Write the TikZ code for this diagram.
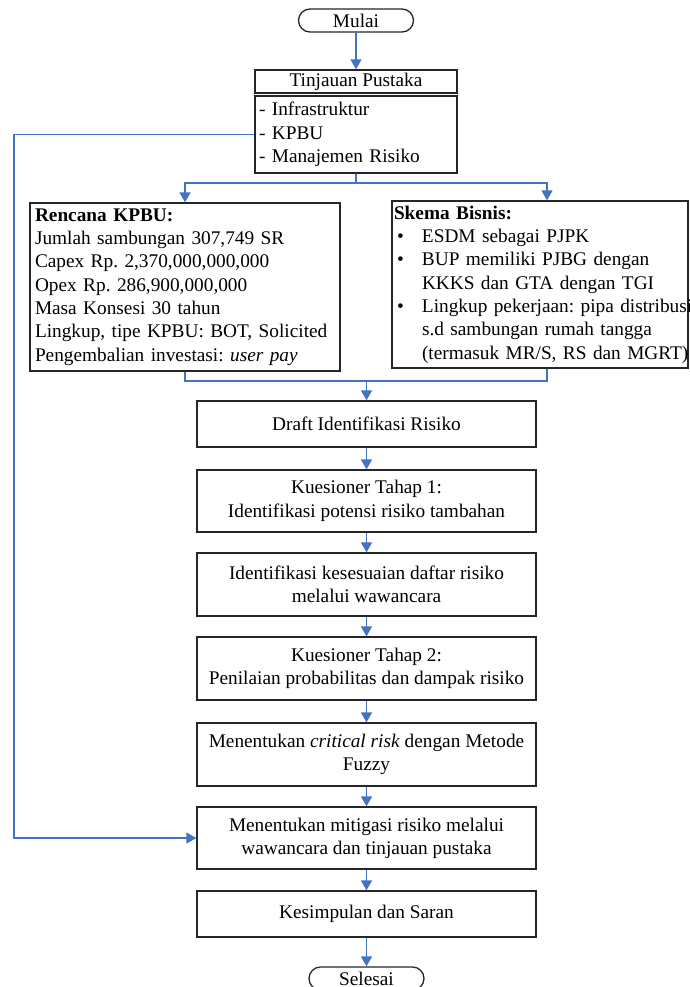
\documentclass[tikz,border=0pt]{standalone}
\usepackage{fontspec}
\setmainfont{Liberation Serif}
\usetikzlibrary{arrows.meta}
\definecolor{flowblue}{HTML}{4472C4}
\newcommand{\skbul}{\makebox[28pt][l]{\hspace*{3pt}\textbullet}}
\newcommand{\skind}{\hspace*{28pt}}
\frenchspacing
\begin{document}
\begin{tikzpicture}[x=1pt,y=-1pt,
  box/.style={draw=black!85, line width=1.3pt, inner sep=0pt,
    font=\fontsize{19.3}{23.3}\selectfont, align=center, minimum width=339pt},
  term/.style={draw=black!85, line width=1.3pt, rounded corners=11.5pt,
    minimum width=115pt, minimum height=23pt, inner sep=0pt,
    font=\fontsize{19.3}{23.3}\selectfont},
  flow/.style={draw=flowblue, line width=1.5pt},
  arr/.style={flow, -{Triangle[length=10pt,width=11pt]}},
  ]
\path[use as bounding box, clip] (0,0) rectangle (690,987);

\node[term] (mulai) at (356,20.5) {Mulai};
\node[box, minimum width=202pt, minimum height=23pt] (tp) at (356,81.5) {Tinjauan Pustaka};
\node[box, align=left, text width=194pt, inner xsep=4pt, minimum width=202pt,
  minimum height=77pt] (tplist) at (356,134.5) {- Infrastruktur\\- KPBU\\- Manajemen Risiko};

\node[box, align=left, text width=300pt, inner xsep=5pt, minimum width=310pt,
  minimum height=168pt] (rencana) at (185,287)
  {\textbf{Rencana KPBU:}\\
   Jumlah sambungan 307,749 SR\\
   Capex Rp. 2,370,000,000,000\\
   Opex Rp. 286,900,000,000\\
   Masa Konsesi 30 tahun\\
   Lingkup, tipe KPBU: BOT, Solicited\\
   Pengembalian investasi: \textit{user pay}};

\node[box, align=left, text width=292pt, inner xsep=2pt, minimum width=296pt,
  minimum height=167pt] (skema) at (540,284.5)
  {\textbf{Skema Bisnis:}\\
   \mbox{\skbul ESDM sebagai PJPK}\\
   \mbox{\skbul BUP memiliki PJBG dengan}\\
   \mbox{\skind KKKS dan GTA dengan TGI}\\
   \mbox{\skbul Lingkup pekerjaan: pipa distribusi}\\
   \mbox{\skind s.d sambungan rumah tangga}\\
   \mbox{\skind (termasuk MR/S, RS dan MGRT)}};

\node[box, minimum height=46pt] (draft) at (366.5,424) {Draft Identifikasi Risiko};
\node[box, minimum height=62pt] (k1) at (366.5,501) {Kuesioner Tahap 1:\\Identifikasi potensi risiko tambahan};
\node[box, minimum height=63pt] (ik) at (366.5,584.5) {Identifikasi kesesuaian daftar risiko\\melalui wawancara};
\node[box, minimum height=63pt] (k2) at (366.5,668.5) {Kuesioner Tahap 2:\\Penilaian probabilitas dan dampak risiko};
\node[box, minimum height=63pt] (crit) at (366.5,754.5) {Menentukan \textit{critical risk} dengan Metode\\Fuzzy};
\node[box, minimum height=62pt] (mit) at (366.5,838) {Menentukan mitigasi risiko melalui\\wawancara dan tinjauan pustaka};
\node[box, minimum height=46pt] (kes) at (366.5,914) {Kesimpulan dan Saran};
\node[term] (selesai) at (366.5,978.5) {Selesai};

\coordinate (split) at (356,183);
\coordinate (merge) at (366.5,381);
\coordinate (loop) at (14,0);

\draw[arr] (mulai) -- (tp);
\draw[flow] (tplist.south) -- (split);
\draw[arr] (split) -| (rencana.north);
\draw[arr] (split) -| ([xshift=7pt]skema.north);
\draw[flow] (rencana.south) |- (merge);
\draw[flow] ([xshift=7pt]skema.south) |- (merge);
\draw[arr] (merge) -- (draft.north);
\draw[arr] (draft) -- (k1);
\draw[arr] (k1) -- (ik);
\draw[arr] (ik) -- (k2);
\draw[arr] (k2) -- (crit);
\draw[arr] (crit) -- (mit);
\draw[arr] (mit) -- (kes);
\draw[arr] (kes) -- (selesai);
\draw[arr] (tplist.west) -- (tplist.west -| loop) |- (mit.west);
\end{tikzpicture}
\end{document}
